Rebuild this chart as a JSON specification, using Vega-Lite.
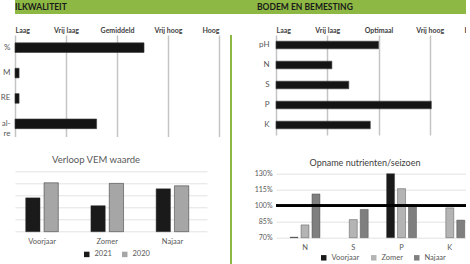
{
  "$schema": "https://vega.github.io/schema/vega-lite/v6.json",
  "autosize": {"type": "pad"},
  "padding": {"left": 0, "top": 0, "right": -19, "bottom": 0},
  "background": "white",
  "config": {
    "view": {"stroke": null},
    "font": "Lato",
    "axis": {"labelFont": "Lato"},
    "legend": {"labelFont": "Lato"},
    "title": {"font": "Lato"}
  },
  "resolve": {"scale": {"color": "independent", "xOffset": "independent"}, "legend": {"color": "independent"}},
  "spacing": 0,
  "vconcat": [
    {
      "width": 470,
      "height": 14,
      "view": {"fill": "#8db844", "stroke": null},
      "data": {"values": [{"t": "ILKWALITEIT", "side": "left"}, {"t": "BODEM EN BEMESTING", "side": "right"}]},
      "layer": [
        {
          "transform": [{"filter": "datum.side == 'left'"}],
          "mark": {"type": "text", "align": "left", "baseline": "middle", "fontWeight": "bold", "fontSize": 8.5, "color": "#1a1a1a"},
          "encoding": {"text": {"field": "t"}, "x": {"value": 0}, "y": {"value": 7}}
        },
        {
          "transform": [{"filter": "datum.side == 'right'"}],
          "mark": {"type": "text", "align": "left", "baseline": "middle", "fontWeight": "bold", "fontSize": 8.5, "color": "#1a1a1a"},
          "encoding": {"text": {"field": "t"}, "x": {"value": 242}, "y": {"value": 7}}
        }
      ]
    },
    {
      "resolve": {"scale": {"color": "independent", "xOffset": "independent"}, "legend": {"color": "independent"}},
      "hconcat": [
        {
          "resolve": {"scale": {"color": "independent", "xOffset": "independent"}, "legend": {"color": "independent"}},
          "concat": [
            {
              "width": 204,
              "height": 101.5,
              "data": {"values": [
                {"param": "%", "score": 2.53},
                {"param": "M", "score": 0.08},
                {"param": "RE", "score": 0.08},
                {"param": "al- re", "score": 1.6}
              ]},
              "mark": {"type": "bar", "color": "#141414", "stroke": "#3a3a3a", "strokeWidth": 0.6},
              "encoding": {
                "y": {"field": "param", "type": "nominal", "sort": null,
                  "scale": {"paddingInner": 0.62, "paddingOuter": 0.31},
                  "axis": {"title": null, "domain": false, "ticks": false, "labelPadding": 5, "labelFontSize": 8, "labelColor": "#595959", "minExtent": 15, "labelExpr": "split(datum.label, ' ')"}},
                "x": {"field": "score", "type": "quantitative",
                  "scale": {"domain": [0, 4], "nice": false},
                  "axis": {"orient": "top", "title": null, "values": [0, 1, 2, 3, 4],
                    "labelExpr": "['Laag','Vrij laag','Gemiddeld','Vrij hoog','Hoog'][datum.value]",
                    "grid": true, "gridColor": "#c4c4c4", "gridWidth": 1.5, "domain": false, "ticks": false,
                    "labelFontSize": 7, "labelFontWeight": "bold", "labelColor": "#404040", "labelPadding": 2, "minExtent": 19}}
              }
            },
            {
              "width": 192,
              "height": 60.4,
              "title": {"text": "Verloop VEM waarde", "fontSize": 9.5, "fontWeight": "normal", "color": "#595959", "offset": 7, "dx": -15},
              "data": {"values": [
                {"season": "Voorjaar", "year": "2021", "vem": 956},
                {"season": "Voorjaar", "year": "2020", "vem": 981},
                {"season": "Zomer", "year": "2021", "vem": 943},
                {"season": "Zomer", "year": "2020", "vem": 980},
                {"season": "Najaar", "year": "2021", "vem": 971},
                {"season": "Najaar", "year": "2020", "vem": 976}
              ]},
              "mark": {"type": "bar", "stroke": "#2a2a2a", "strokeWidth": 0.5},
              "encoding": {
                "x": {"field": "season", "type": "nominal", "sort": ["Voorjaar", "Zomer", "Najaar"],
                  "scale": {"paddingInner": 0.5, "paddingOuter": 0.222, "align": 0.37},
                  "axis": {"title": null, "labelAngle": 0, "domain": false, "ticks": false, "labelPadding": 6, "labelFontSize": 7.5, "labelColor": "#595959"}},
                "xOffset": {"field": "year", "type": "nominal", "scale": {"domain": ["2021", "2020"], "paddingInner": 0.22}},
                "y": {"field": "vem", "type": "quantitative", "scale": {"domain": [900, 1000], "nice": false},
                  "axis": {"title": null, "values": [900, 920, 940, 960, 980, 1000], "labels": false, "ticks": false, "domain": false, "gridColor": "#e3e3e3", "minExtent": 10}},
                "y2": {"datum": 900},
                "color": {"field": "year", "type": "nominal",
                  "scale": {"domain": ["2021", "2020"], "range": ["#1a1a1a", "#a6a6a6"]},
                  "legend": {"orient": "none", "legendX": 68, "legendY": 79, "direction": "horizontal", "padding": 0, "title": null, "symbolType": "square", "symbolStrokeWidth": 0, "labelFontSize": 7.5, "labelColor": "#595959", "symbolSize": 30, "columnPadding": 9}}
              }
            }
          ],
          "columns": 1,
          "spacing": 16.3
        },
        {
          "width": 2,
          "height": 250,
          "view": {"fill": "#8db844", "stroke": null},
          "data": {"values": [{}]},
          "mark": {"type": "point", "opacity": 0},
          "encoding": {}
        },
        {
          "resolve": {"scale": {"color": "independent", "xOffset": "independent"}, "legend": {"color": "independent"}},
          "concat": [
            {
              "width": 205,
              "height": 100,
              "data": {"values": [
                {"param": "pH", "score": 2.0},
                {"param": "N", "score": 1.09},
                {"param": "S", "score": 1.42},
                {"param": "P", "score": 3.03},
                {"param": "K", "score": 1.84}
              ]},
              "mark": {"type": "bar", "color": "#141414", "stroke": "#3a3a3a", "strokeWidth": 0.6},
              "encoding": {
                "y": {"field": "param", "type": "nominal", "sort": null,
                  "scale": {"paddingInner": 0.62, "paddingOuter": 0.31},
                  "axis": {"title": null, "domain": false, "ticks": false, "labelPadding": 7, "labelFontSize": 8, "labelColor": "#595959", "minExtent": 33}},
                "x": {"field": "score", "type": "quantitative",
                  "scale": {"domain": [0, 4], "nice": false},
                  "axis": {"orient": "top", "title": null, "values": [0, 1, 2, 3, 4],
                    "labelExpr": "['Laag','Vrij laag','Optimaal','Vrij hoog','Hoog'][datum.value]",
                    "grid": true, "gridColor": "#c4c4c4", "gridWidth": 1.5, "domain": false, "ticks": false,
                    "labelFontSize": 7, "labelFontWeight": "bold", "labelColor": "#404040", "labelPadding": 2, "minExtent": 20.5}}
              }
            },
            {
              "width": 197,
              "height": 64,
              "title": {"text": "Opname nutrienten/seizoen", "fontSize": 9, "fontWeight": "normal", "color": "#404040", "offset": 1.7, "dx": -9.5},
              "data": {"values": [
                {"nutrient": "N", "season": "Voorjaar", "uptake": 0.705},
                {"nutrient": "N", "season": "Zomer", "uptake": 0.82},
                {"nutrient": "N", "season": "Najaar", "uptake": 1.11},
                {"nutrient": "S", "season": "Zomer", "uptake": 0.87},
                {"nutrient": "S", "season": "Najaar", "uptake": 0.965},
                {"nutrient": "P", "season": "Voorjaar", "uptake": 1.3},
                {"nutrient": "P", "season": "Zomer", "uptake": 1.16},
                {"nutrient": "P", "season": "Najaar", "uptake": 1.0},
                {"nutrient": "K", "season": "Zomer", "uptake": 0.98},
                {"nutrient": "K", "season": "Najaar", "uptake": 0.865}
              ]},
              "layer": [
                {
                  "mark": {"type": "bar", "stroke": "#3a3a3a", "strokeWidth": 0.4},
                  "encoding": {
                    "x": {"field": "nutrient", "type": "nominal", "sort": ["N", "S", "P", "K"],
                      "scale": {"paddingInner": 0.38, "paddingOuter": 0.231, "align": 0.63},
                      "axis": {"title": null, "labelAngle": 0, "domain": false, "ticks": false, "labelPadding": 6, "labelFontSize": 7.5, "labelColor": "#595959"}},
                    "xOffset": {"field": "season", "type": "nominal", "scale": {"domain": ["Voorjaar", "Zomer", "Najaar"], "paddingInner": 0.27}},
                    "y": {"field": "uptake", "type": "quantitative", "scale": {"domain": [0.7, 1.3], "nice": false},
                      "axis": {"title": null, "values": [0.7, 0.85, 1.0, 1.15, 1.3], "format": ".0%", "labelOverlap": false, "ticks": false, "domain": false, "gridColor": "#e3e3e3", "labelFontSize": 7, "labelColor": "#595959", "labelPadding": 4, "minExtent": 33}},
                    "y2": {"datum": 0.7},
                    "color": {"field": "season", "type": "nominal",
                      "scale": {"domain": ["Voorjaar", "Zomer", "Najaar"], "range": ["#1a1a1a", "#b4b4b4", "#7f7f7f"]},
                      "legend": {"orient": "none", "legendX": 44, "legendY": 80, "direction": "horizontal", "padding": 0, "title": null, "symbolType": "square", "symbolStrokeWidth": 0, "labelFontSize": 7.5, "labelColor": "#595959", "symbolSize": 30, "columnPadding": 10}}
                  }
                },
                {
                  "mark": {"type": "rule", "color": "#000000", "strokeWidth": 1.8},
                  "encoding": {"y": {"datum": 1.0, "type": "quantitative",
                    "axis": {"title": null, "values": [0.7, 0.85, 1.0, 1.15, 1.3], "format": ".0%", "labelOverlap": false, "ticks": false, "domain": false, "gridColor": "#e3e3e3", "labelFontSize": 7, "labelColor": "#595959", "labelPadding": 4, "minExtent": 33}}}
                }
              ]
            }
          ],
          "columns": 1,
          "spacing": 23.7
        }
      ],
      "spacing": 9
    }
  ]
}
